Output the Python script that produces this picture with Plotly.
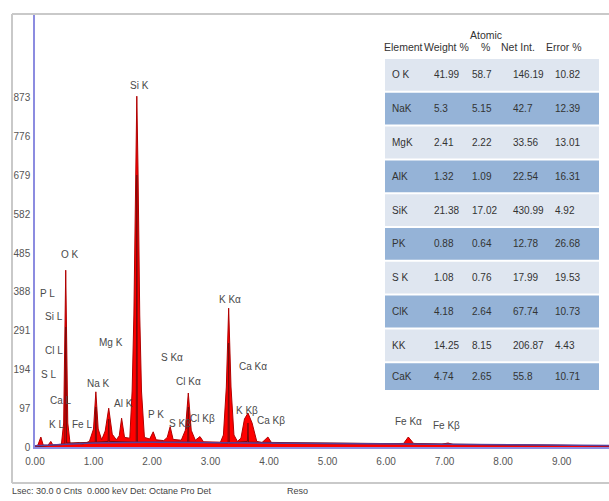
import plotly.graph_objects as go

# ---------------- EDS spectrum (keV vs counts) ----------------
energy_kev = [0.00, 0.05, 0.10, 0.14, 0.22, 0.27, 0.31, 0.45, 0.49, 0.525, 0.56, 0.60,
              0.75, 0.80, 0.93, 1.00, 1.04, 1.08, 1.14, 1.20, 1.26, 1.32, 1.39, 1.44,
              1.48, 1.53, 1.62, 1.66, 1.69, 1.72, 1.74, 1.76, 1.79, 1.82, 1.87, 1.96,
              2.02, 2.07, 2.20, 2.26, 2.31, 2.36, 2.50, 2.57, 2.62, 2.67, 2.74, 2.82,
              2.88, 3.17, 3.22, 3.27, 3.31, 3.35, 3.40, 3.46, 3.52, 3.58, 3.64, 3.71,
              3.79, 3.88, 3.98, 4.05, 4.50, 5.00, 6.00, 6.30, 6.38, 6.47, 6.95, 7.06,
              7.15, 8.00, 9.00, 9.85]
counts = [0, 5, 25, 5, 4, 14, 4, 5, 60, 442, 60, 8,
          10, 6, 14, 45, 138, 45, 18, 40, 97, 32, 18, 28,
          72, 24, 22, 140, 330, 700, 877, 700, 330, 140, 24, 20,
          38, 18, 16, 24, 51, 19, 17, 42, 135, 42, 17, 26,
          13, 12, 30, 150, 347, 150, 30, 14, 22, 70, 85, 60,
          14, 11, 25, 9, 8, 8, 8, 9, 25, 9, 7, 10,
          6, 5, 4, 3]

# darker overlay trace visible in the cores of the main peaks
core_kev = [0.00, 0.51, 0.525, 0.54, 1.03, 1.04, 1.05, 1.25, 1.26, 1.27, 1.73, 1.74,
            1.75, 2.61, 2.62, 2.63, 3.30, 3.31, 3.32, 3.63, 3.64, 3.65, 9.85]
core_counts = [0, 8, 300, 10, 12, 100, 12, 14, 70, 14, 12, 680,
               12, 12, 100, 12, 10, 260, 10, 14, 60, 12, 3]

# continuum background under the peaks
bg_kev = [0.0, 0.5, 1.0, 2.0, 3.0, 4.0, 5.0, 6.0, 7.0, 8.0, 9.0, 9.85]
bg_counts = [3, 6, 10, 12, 11, 9, 8, 7, 7, 6, 5, 4]

x_ticks = [0, 1, 2, 3, 4, 5, 6, 7, 8, 9]
y_ticks = [0, 97, 194, 291, 388, 485, 582, 679, 776, 873]

# peak identification labels: (text, keV, counts, anchor)
peak_labels = [
    ("Si K", 1.78, 905, "center"), ("O K", 0.60, 482, "center"),
    ("P L", 0.05, 385, "left"), ("Si L", 0.13, 327, "left"),
    ("Cl L", 0.13, 242, "left"), ("S L", 0.06, 182, "left"),
    ("Ca L", 0.22, 117, "left"), ("K L", 0.20, 57, "left"),
    ("Fe L", 0.60, 57, "left"), ("Na K", 1.09, 160, "center"),
    ("Mg K", 1.30, 262, "center"), ("Al K", 1.52, 110, "center"),
    ("P K", 2.07, 82, "center"), ("S Kα", 2.34, 225, "center"),
    ("Cl Kα", 2.63, 163, "center"), ("S Kβ", 2.48, 60, "center"),
    ("Cl Kβ", 2.86, 72, "center"), ("K Kα", 3.33, 370, "center"),
    ("Ca Kα", 3.72, 202, "center"), ("K Kβ", 3.62, 92, "center"),
    ("Ca Kβ", 4.03, 67, "center"), ("Fe Kα", 6.39, 65, "center"),
    ("Fe Kβ", 7.04, 55, "center"),
]

# ---------------- quantification table ----------------
elements = ["O K", "NaK", "MgK", "AlK", "SiK", "PK", "S K", "ClK", "KK", "CaK"]
weight_pct = ["41.99", "5.3", "2.41", "1.32", "21.38", "0.88", "1.08", "4.18", "14.25", "4.74"]
atomic_pct = ["58.7", "5.15", "2.22", "1.09", "17.02", "0.64", "0.76", "2.64", "8.15", "2.65"]
net_int = ["146.19", "42.7", "33.56", "22.54", "430.99", "12.78", "17.99", "67.74", "206.87", "55.8"]
error_pct = ["10.82", "12.39", "13.01", "16.31", "4.92", "26.68", "19.53", "10.73", "4.43", "10.71"]
headers = ["Element", "Weight %", "%", "Net Int.", "Error %"]

W, H = 609, 501
ML, MR, MT, MB = 35, 0, 14, 54
PW, PH = W - ML - MR, H - MT - MB
X_MAX = 9.81
Y_MAX = 1082.5

def px(xp):
    return (xp - ML) / PW

def py(yp):
    return (H - MB - yp) / PH

FONT = "Liberation Sans, Arial, sans-serif"

fig = go.Figure()
fig.add_trace(go.Scatter(
    x=energy_kev, y=counts, mode="lines", fill="tozeroy",
    fillcolor="#ff0000", line=dict(color="#b00000", width=1),
    hoverinfo="skip", showlegend=False))
fig.add_trace(go.Scatter(
    x=core_kev, y=core_counts, mode="lines",
    line=dict(color="#7a0a0a", width=1),
    hoverinfo="skip", showlegend=False))
fig.add_trace(go.Scatter(
    x=bg_kev, y=bg_counts, mode="lines",
    line=dict(color="#5a3f9a", width=1.5),
    hoverinfo="skip", showlegend=False))

annotations = []
for text, kx, ky, anc in peak_labels:
    annotations.append(dict(x=kx, y=ky, xref="x", yref="y", text=text, showarrow=False,
                            xanchor=anc, yanchor="middle",
                            font=dict(family=FONT, size=10, color="#4a4a4a")))

shapes = []
# outer frame of the spectrum panel
frame = dict(type="line", xref="paper", yref="paper", line=dict(color="#c9c9c9", width=2))
shapes.append(dict(frame, x0=px(12), x1=px(12), y0=py(14), y1=py(483)))
shapes.append(dict(frame, x0=px(12), x1=px(609), y0=py(14), y1=py(14)))
shapes.append(dict(frame, x0=px(12), x1=px(609), y0=py(483), y1=py(483)))

# table bands
TBL_L, TBL_R = 385, 599
ROW0, ROW_H, TBL_BOTTOM = 58, 33.8, 391
band_colors = ["#dfe6f0", "#95b3d7"]
col_x = [390, 432, 470, 511, 553]
for i in range(len(elements)):
    top = ROW0 + i * ROW_H
    bot = min(top + ROW_H, TBL_BOTTOM)
    shapes.append(dict(type="rect", xref="paper", yref="paper", layer="above",
                       x0=px(TBL_L), x1=px(TBL_R), y0=py(bot - 1), y1=py(top + 1),
                       fillcolor=band_colors[i % 2], line=dict(width=0)))
    cy = (top + bot) / 2
    for col, xl in zip([elements, weight_pct, atomic_pct, net_int, error_pct], col_x):
        annotations.append(dict(x=px(xl), y=py(cy), xref="paper", yref="paper",
                                text=col[i], showarrow=False, xanchor="left",
                                yanchor="middle",
                                font=dict(family=FONT, size=10, color="#333333")))

for htext, hx in zip(headers, [403, 446, 485, 518, 564]):
    annotations.append(dict(x=px(hx), y=py(47), xref="paper", yref="paper", text=htext,
                            showarrow=False, xanchor="center", yanchor="middle",
                            font=dict(family=FONT, size=10.5, color="#333333")))
annotations.append(dict(x=px(486), y=py(35), xref="paper", yref="paper", text="Atomic",
                        showarrow=False, xanchor="center", yanchor="middle",
                        font=dict(family=FONT, size=10.5, color="#333333")))

status = dict(xref="paper", yref="paper", showarrow=False, xanchor="left",
              yanchor="middle", font=dict(family=FONT, size=9, color="#444444"))
annotations.append(dict(status, x=px(10), y=py(491),
                        text="Lsec: 30.0 0 Cnts  0.000 keV Det: Octane Pro Det"))
annotations.append(dict(status, x=px(285), y=py(491), text="Reso"))

fig.update_layout(
    width=W, height=H,
    margin=dict(l=ML, r=MR, t=MT, b=MB),
    paper_bgcolor="white", plot_bgcolor="white",
    annotations=annotations, shapes=shapes,
    xaxis=dict(range=[0, X_MAX], tickvals=x_ticks,
               ticktext=[f"{v:.2f}" for v in x_ticks],
               showgrid=False, zeroline=False, showline=True,
               linecolor="#8c8ce0", linewidth=1.5, ticks="", ticklabelstandoff=4,
               tickfont=dict(family=FONT, size=10, color="#555555")),
    yaxis=dict(range=[0, Y_MAX], tickvals=y_ticks,
               ticktext=[str(v) for v in y_ticks],
               showgrid=False, zeroline=False, showline=True,
               linecolor="#8c8ce0", linewidth=1.5, ticks="", ticklabelstandoff=1,
               tickfont=dict(family=FONT, size=10, color="#555555")),
)

fig.write_html("out.html")
